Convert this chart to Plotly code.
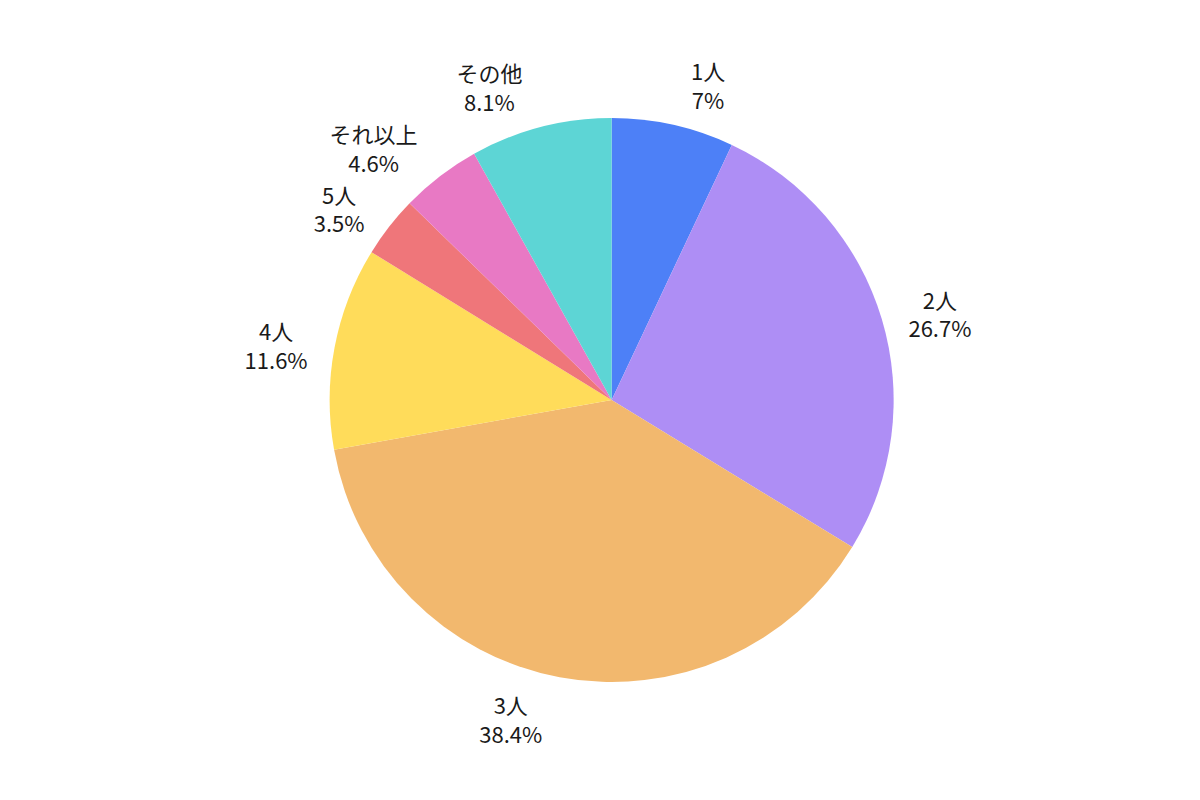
import plotly.graph_objects as go

labels = ["1人", "2人", "3人", "4人", "5人", "それ以上", "その他"]
values = [7, 26.7, 38.4, 11.6, 3.5, 4.6, 8.1]
colors = ["#4d80f7", "#ae8ef5", "#f2b86e", "#ffdc5a", "#ef767a", "#e879c4", "#5dd5d5"]

TEXT_STYLE = "color:#1a1a1a;fill-opacity:1"


def main():
    fig = go.Figure()

    # 色付きの円（ラベルなし）
    fig.add_trace(
        go.Pie(
            labels=labels,
            values=values,
            sort=False,
            direction="clockwise",
            rotation=0,
            marker=dict(colors=colors, line=dict(width=0)),
            textinfo="none",
            domain=dict(x=[0, 0.96], y=[0.03, 0.97]),
            showlegend=False,
        )
    )

    # ラベルを少し外側に置くための透明な円（引き出し線は透明）
    fig.add_trace(
        go.Pie(
            labels=labels,
            values=values,
            sort=False,
            direction="clockwise",
            rotation=0,
            marker=dict(colors=["rgba(0,0,0,0)"] * len(values), line=dict(width=0)),
            texttemplate=(
                f"<span style='{TEXT_STYLE}'>%{{label}}</span><br>"
                f"<span style='{TEXT_STYLE}'>%{{value}}%</span>"
            ),
            textposition="outside",
            textfont=dict(size=22, color="rgba(0,0,0,0)"),
            hoverinfo="skip",
            domain=dict(x=[0, 0.96], y=[0.01, 0.99]),
            showlegend=False,
        )
    )

    fig.update_layout(
        width=1200,
        height=800,
        margin=dict(l=20, r=60, t=92, b=108),
        font=dict(family="Noto Sans CJK JP"),
        paper_bgcolor="white",
        plot_bgcolor="white",
    )

    fig.write_html("out.html")


if __name__ == "__main__":
    main()
